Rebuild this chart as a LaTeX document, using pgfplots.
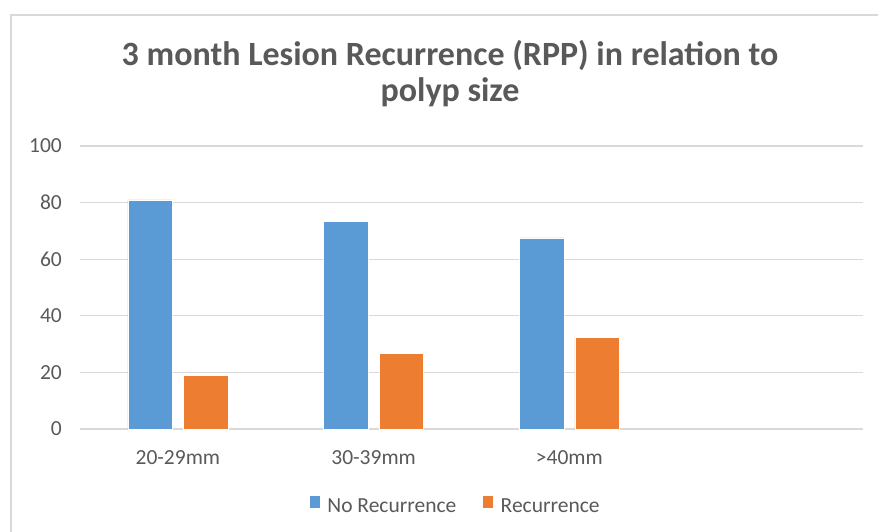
\documentclass[border=0pt]{standalone}
\usepackage{pgfplots}
\pgfplotsset{compat=1.18}
\usepackage{fontspec}
\setmainfont{Carlito}
\definecolor{txtgray}{HTML}{595959}
\definecolor{gridgray}{HTML}{D9D9D9}
\definecolor{xlblue}{HTML}{5B9BD5}
\definecolor{xlorange}{HTML}{ED7D31}

\begin{document}
\begin{tikzpicture}
\path[use as bounding box] (0pt,0pt) rectangle (878pt,531pt);
% chart frame (cut at right and bottom)
\draw[gridgray, line width=1.6pt] (11pt,-5pt) -- (11pt,516pt) -- (890pt,516pt);
% title
\node[anchor=base, inner sep=0pt, text=txtgray, font=\fontsize{34}{36}\selectfont\bfseries]
  at (450pt,465pt) {3 month Lesion Recurrence (RPP) in relation to};
\node[anchor=base, inner sep=0pt, text=txtgray, font=\fontsize{34}{36}\selectfont\bfseries]
  at (450pt,429pt) {polyp size};

\begin{axis}[
  at={(80pt,102pt)}, anchor=south west,
  scale only axis, width=783pt, height=283pt,
  xmin=-0.5, xmax=3.5, ymin=0, ymax=100,
  axis line style={draw=none},
  major tick length=0pt,
  ymajorgrids, grid style={gridgray, line width=1.3pt},
  ytick={0,20,...,100},
  xtick={0,1,2},
  xticklabels={20-29mm,30-39mm,{>40mm}},
  /pgf/number format/assume math mode=true,
  ticklabel style={font=\fontsize{21.5}{24}\selectfont, text=txtgray},
  yticklabel style={anchor=east, inner sep=0pt, xshift=-18pt},
  xticklabel style={anchor=base, inner sep=0pt, yshift=-35pt},
  ybar, bar width=0.227,
  legend columns=2,
  legend style={at={(0.478,-0.2675)}, anchor=center, draw=none, fill=none,
    font=\fontsize{21.5}{24}\selectfont, text=txtgray,
    nodes={inner sep=0pt},
    /tikz/every odd column/.append style={column sep=7pt},
    /tikz/every even column/.append style={column sep=26pt}},
  legend image code/.code={\fill (0pt,-1pt) rectangle (11pt,11.7pt);},
]
\addplot[ybar, bar shift=-0.142, fill=xlblue, draw=white, line width=0.4pt]
  coordinates {(0,81) (1,73.3) (2,67.5)};
\addplot[ybar, bar shift=0.142, fill=xlorange, draw=white, line width=0.4pt]
  coordinates {(0,19) (1,26.7) (2,32.5)};
\legend{No Recurrence, Recurrence}
\end{axis}
\end{tikzpicture}
\end{document}
